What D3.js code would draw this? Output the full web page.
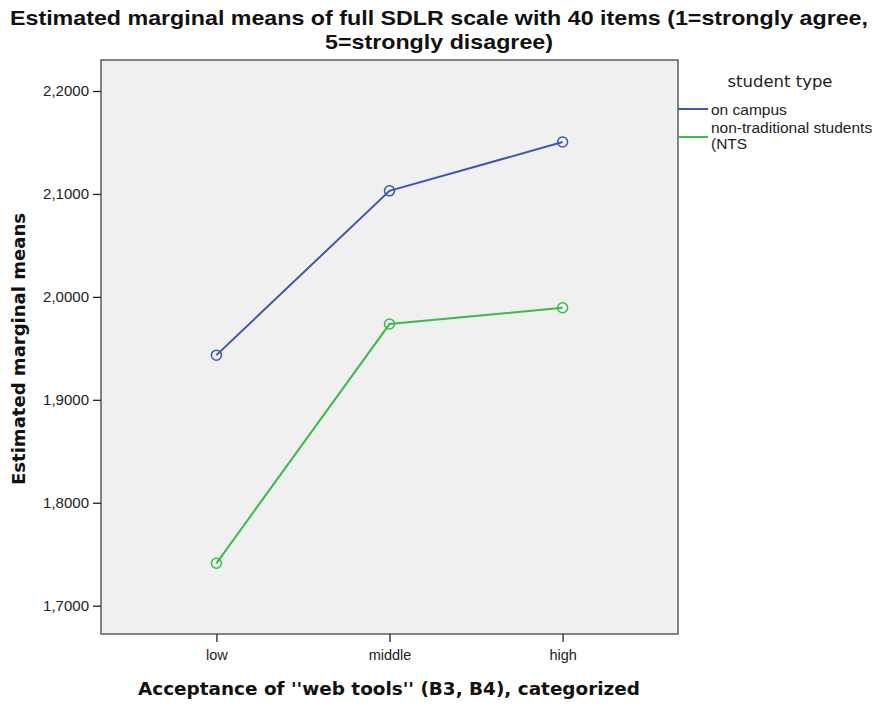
<!DOCTYPE html>
<html><head><meta charset="utf-8">
<script src="https://cdn.jsdelivr.net/npm/d3@7/dist/d3.min.js"></script>
<style>body{margin:0;background:#fff}svg{display:block}</style>
</head><body>
<script>
const categories = ["low", "middle", "high"];
const seriesNames = ["on campus", "non-traditional students (NTS"];
const onCampus = [1.9434, 2.1030, 2.1504];
const nts = [1.7412, 1.9736, 1.9894];
const yTicks = [1.7, 1.8, 1.9, 2.0, 2.1, 2.2];
const colors = ["#3E58AC", "#3EBA4A"];

const W = 883, H = 705;
const L = 101, R = 678, T = 60, B = 634;
const svg = d3.select("body").append("svg").attr("width", W).attr("height", H);

// categories sit at 20%, 50%, 80% of plot width
const x = d3.scalePoint().domain(categories).range([L + 0.2 * (R - L), L + 0.8 * (R - L)]);
const y = d3.scaleLinear().domain([1.7, 2.2]).range([605.7, 91]);

svg.append("rect").attr("x", L).attr("y", T).attr("width", R - L).attr("height", B - T)
  .attr("fill", "#F0F0F0").attr("stroke", "#444").attr("stroke-width", 1.3);

const font = "'Liberation Sans', Arial, sans-serif";
const boldFont = "'DejaVu Sans', sans-serif";
// y axis
const yAxis = d3.axisLeft(y).tickValues(yTicks).tickSize(8).tickPadding(4)
  .tickFormat(d => d3.format(".4f")(d).replace(".", ","));
const gy = svg.append("g").attr("transform", `translate(${L},0)`).call(yAxis);
gy.select(".domain").remove();
gy.selectAll("line").attr("stroke", "#222").attr("stroke-width", 1.3);
gy.selectAll("text").attr("font-family", font).attr("font-size", 15).attr("fill", "#222");

// x axis
const xAxis = d3.axisBottom(x).tickSize(8).tickPadding(8);
const gx = svg.append("g").attr("transform", `translate(0,${B})`).call(xAxis);
gx.select(".domain").remove();
gx.selectAll("line").attr("stroke", "#222").attr("stroke-width", 1.3);
gx.selectAll("text").attr("font-family", font).attr("font-size", 14.5).attr("fill", "#222");

// lines
const line = d3.line().x((d, i) => x(categories[i])).y(d => y(d));
[onCampus, nts].forEach((s, k) => {
  svg.append("path").datum(s).attr("d", line).attr("fill", "none")
    .attr("stroke", colors[k]).attr("stroke-width", 2);
  svg.selectAll(null).data(s).enter().append("circle")
    .attr("cx", (d, i) => x(categories[i])).attr("cy", d => y(d)).attr("r", 5)
    .attr("fill", "none").attr("stroke", colors[k]).attr("stroke-width", 1.5);
});

// title
const title = svg.append("text").attr("text-anchor", "middle").attr("font-family", font)
  .attr("font-weight", "bold").attr("font-size", 21).attr("fill", "#111");
title.append("tspan").attr("x", 439).attr("y", 25).attr("textLength", 858).attr("lengthAdjust", "spacingAndGlyphs")
  .text("Estimated marginal means of full SDLR scale with 40 items (1=strongly agree,");
title.append("tspan").attr("x", 439).attr("y", 49).attr("textLength", 228).attr("lengthAdjust", "spacingAndGlyphs")
  .text("5=strongly disagree)");

// axis titles
svg.append("text").attr("transform", `translate(25,349) rotate(-90)`).attr("text-anchor", "middle")
  .attr("font-family", boldFont).attr("font-weight", "bold").attr("font-size", 18).attr("fill", "#111")
  .attr("textLength", 272).attr("lengthAdjust", "spacingAndGlyphs")
  .text("Estimated marginal means");
svg.append("text").attr("x", 389).attr("y", 695).attr("text-anchor", "middle")
  .attr("font-family", boldFont).attr("font-weight", "bold").attr("font-size", 17).attr("fill", "#111")
  .attr("textLength", 502).attr("lengthAdjust", "spacingAndGlyphs")
  .text("Acceptance of ''web tools'' (B3, B4), categorized");

// legend
svg.append("text").attr("x", 780).attr("y", 87).attr("text-anchor", "middle")
  .attr("font-family", "'DejaVu Sans', sans-serif").attr("font-size", 16.5).attr("fill", "#222")
  .attr("textLength", 105).attr("lengthAdjust", "spacingAndGlyphs").text("student type");
const legY = [109, 137];
legY.forEach((ly, k) => {
  svg.append("line").attr("x1", R).attr("x2", 708).attr("y1", ly).attr("y2", ly)
    .attr("stroke", colors[k]).attr("stroke-width", 2);
});
svg.append("text").attr("x", 711).attr("y", 115).attr("font-family", font).attr("font-size", 15.5).attr("fill", "#222").text(seriesNames[0]);
const t2 = svg.append("text").attr("font-family", font).attr("font-size", 15.5).attr("fill", "#222");
t2.append("tspan").attr("x", 711).attr("y", 133).text("non-traditional students");
t2.append("tspan").attr("x", 711).attr("y", 149).text("(NTS");
</script>
</body></html>
